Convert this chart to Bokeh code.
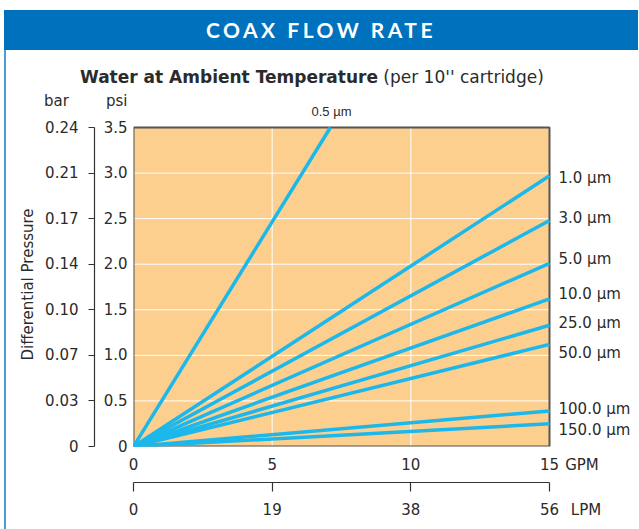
from bokeh.plotting import figure
from bokeh.models import (Range1d, LinearAxis, FixedTicker, Label, LabelSet,
                          ColumnDataSource, Div, Title)
from bokeh.layouts import column, row
from bokeh.core.properties import value
from bokeh.embed import file_html
from bokeh.resources import INLINE

# ---------------- data ----------------
grades = ["0.5 µm", "1.0 µm", "3.0 µm", "5.0 µm", "10.0 µm", "25.0 µm",
          "50.0 µm", "100.0 µm", "150.0 µm"]
flow_end_gpm = [7.1, 15, 15, 15, 15, 15, 15, 15, 15]
dp_end_psi = [3.5, 2.97, 2.48, 2.01, 1.62, 1.33, 1.12, 0.39, 0.25]

gpm_ticks = [0, 5, 10, 15]
gpm_labels = ["0", "5", "10", "15"]
lpm_labels = ["0", "19", "38", "56"]
psi_ticks = [0, 0.5, 1.0, 1.5, 2.0, 2.5, 3.0, 3.5]
psi_labels = ["0", "0.5", "1.0", "1.5", "2.0", "2.5", "3.0", "3.5"]
bar_labels = ["0", "0.03", "0.07", "0.10", "0.14", "0.17", "0.21", "0.24"]

# where the grade names sit along the right edge (psi units)
label_y_psi = [2.95, 2.51, 2.06, 1.67, 1.35, 1.03, 0.41, 0.18]

# ---------------- style ----------------
BLUE = "#0071BC"
LINE_BLUE = "#4A9BD6"
ORANGE = "#FCCF8E"
CYAN = "#1CB8EC"
TXT = "#2b2b2b"
FONT = "DejaVu Sans"

X_MAX = max(gpm_ticks)
Y_MAX = max(psi_ticks)

# page-pixel geometry of the chart area (for placing texts only)
PA_L, PA_R, PA_T, PA_B = 133, 549, 127, 446
FRAME_R, FRAME_T = 636, 88


def dx(px):
    return (px - PA_L) / (PA_R - PA_L) * X_MAX


def dy(py):
    return (PA_B - py) / (PA_B - PA_T) * Y_MAX


p = figure(frame_width=FRAME_R - PA_L, frame_height=PA_B - FRAME_T,
           x_range=Range1d(0, dx(FRAME_R)), y_range=Range1d(0, dy(FRAME_T)),
           x_axis_type=None, y_axis_type=None,
           toolbar_location=None, output_backend="svg",
           min_border_left=127, min_border_right=0,
           min_border_top=0, min_border_bottom=80,
           background_fill_color="white", border_fill_color="white",
           outline_line_color=None)

# chart area, grid and border
p.quad(left=0, right=X_MAX, bottom=0, top=Y_MAX, fill_color=ORANGE,
       line_color=None, level="image")
p.segment(x0=0, x1=X_MAX, y0=psi_ticks[1:-1], y1=psi_ticks[1:-1],
          line_color="white", line_width=1, level="underlay")
p.segment(x0=gpm_ticks[1:-1], x1=gpm_ticks[1:-1], y0=0, y1=Y_MAX,
          line_color="white", line_width=1, level="underlay")
p.quad(left=0, right=X_MAX, bottom=0, top=Y_MAX, fill_color=None,
       line_color="#555555", line_width=2)


def style_common(ax, size="15px"):
    ax.major_label_text_font = FONT
    ax.major_label_text_font_size = size
    ax.major_label_text_color = TXT
    ax.minor_tick_line_color = None
    ax.axis_label_text_font = FONT
    ax.axis_label_text_font_style = "normal"
    ax.axis_label_text_color = TXT


def bare(ax):
    ax.axis_line_color = None
    ax.major_tick_line_color = None
    ax.major_tick_out = 0
    ax.major_tick_in = 0


def lined(ax, tick_out):
    ax.axis_line_color = "#333333"
    ax.axis_line_width = 1.2
    ax.major_tick_line_color = "#333333"
    ax.major_tick_line_width = 1.2
    ax.major_tick_out = tick_out
    ax.major_tick_in = 0
    ax.major_label_text_font_size = "0px"
    ax.major_label_standoff = 0


# ---- left: psi labels, bar bracket, bar labels ----
psi_head = dy(100)
psi_ax = LinearAxis(ticker=FixedTicker(ticks=psi_ticks + [psi_head]),
                    major_label_overrides=dict(zip(psi_ticks + [psi_head],
                                                   psi_labels + ["psi"])))
style_common(psi_ax)
bare(psi_ax)
psi_ax.major_label_standoff = 6
psi_ax.axis_label = " "
psi_ax.axis_label_text_font_size = "2px"
psi_ax.axis_label_standoff = 1
p.add_layout(psi_ax, "left")

bar_line_ax = LinearAxis(ticker=FixedTicker(ticks=psi_ticks), bounds=(0, Y_MAX),
                         major_label_overrides={t: "" for t in psi_ticks})
style_common(bar_line_ax)
lined(bar_line_ax, 6)
p.add_layout(bar_line_ax, "left")

bar_ax = LinearAxis(ticker=FixedTicker(ticks=psi_ticks + [psi_head]),
                    major_label_overrides=dict(zip(psi_ticks + [psi_head],
                                                   bar_labels + ["bar\u00a0\u00a0"])))
style_common(bar_ax)
bare(bar_ax)
bar_ax.major_label_standoff = 10
p.add_layout(bar_ax, "left")

p.add_layout(Title(text="Differential Pressure", align="left", offset=86,
                   text_font=FONT, text_font_size="15px",
                   text_font_style="normal", text_color=TXT), "left")

# ---- bottom: GPM labels, LPM bracket, LPM labels ----
unit_x_gpm = dx(581.5)
unit_x_lpm = dx(585.5)
gpm_ax = LinearAxis(ticker=FixedTicker(ticks=gpm_ticks + [unit_x_gpm]),
                    major_label_overrides=dict(zip(gpm_ticks + [unit_x_gpm],
                                                   gpm_labels + ["GPM"])))
style_common(gpm_ax)
bare(gpm_ax)
gpm_ax.major_label_standoff = 9
gpm_ax.axis_label = " "
gpm_ax.axis_label_text_font_size = "2px"
gpm_ax.axis_label_standoff = 1
p.add_layout(gpm_ax, "below")

lpm_line_ax = LinearAxis(ticker=FixedTicker(ticks=gpm_ticks), bounds=(0, X_MAX),
                         major_label_overrides={t: "" for t in gpm_ticks})
style_common(lpm_line_ax)
lined(lpm_line_ax, 9)
p.add_layout(lpm_line_ax, "below")

lpm_ax = LinearAxis(ticker=FixedTicker(ticks=gpm_ticks + [unit_x_lpm]),
                    major_label_overrides=dict(zip(gpm_ticks + [unit_x_lpm],
                                                   lpm_labels + ["LPM"])))
style_common(lpm_ax)
bare(lpm_ax)
lpm_ax.major_label_standoff = 9
p.add_layout(lpm_ax, "below")

# ---- filter curves ----
p.multi_line(xs=[[0, g] for g in flow_end_gpm],
             ys=[[0, d] for d in dp_end_psi],
             line_color=CYAN, line_width=3.5)

# ---- grade names ----
src = ColumnDataSource(dict(x=[dx(558)] * len(label_y_psi), y=label_y_psi,
                            text=grades[1:]))
p.add_layout(LabelSet(x="x", y="y", text="text", source=src,
                      text_font=value(FONT), text_font_size="15px",
                      text_color=TXT, text_align="left",
                      text_baseline="middle"))
p.add_layout(Label(x=dx(331), y=dy(111), text=grades[0],
                   text_font="Liberation Sans", text_font_size="13px",
                   text_color=TXT, text_align="center", text_baseline="middle"))

# ---- page furniture ----
header = Div(text="COAX FLOW RATE", width=634, height=40, margin=(10, 0, 0, 4),
             styles={"background-color": BLUE, "color": "white",
                     "font-family": "Lato", "font-weight": "bold",
                     "font-size": "21px", "letter-spacing": "3.5px",
                     "text-align": "center", "line-height": "40px"})
sub = Div(text=("<div style=\"padding:15px 0 0 74px; font-family:'DejaVu Sans';"
                " font-size:17px; color:#2b2b2b; white-space:nowrap;\">"
                "<b>Water at Ambient Temperature</b> (per 10'' cartridge)</div>"),
          width=630, height=38, margin=0)
side_line = Div(text="", width=2, height=479, margin=(0, 0, 0, 4),
                styles={"background-color": LINE_BLUE})

layout = column(header, row(side_line, column(sub, p, spacing=0), spacing=0),
                spacing=0)

open("out.html", "w").write(file_html(layout, INLINE))
